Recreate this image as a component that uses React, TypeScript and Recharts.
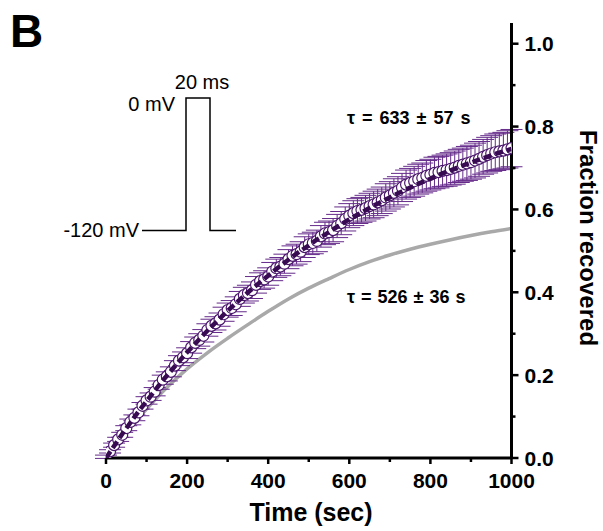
import React from 'react';
import { ComposedChart, Line, Scatter, ErrorBar, XAxis, YAxis } from 'recharts';

const timePoints = [0, 10, 20, 30, 40, 50, 60, 70, 80, 90, 100, 110, 120, 130, 140, 150, 160, 170, 180, 190, 200, 210, 220, 230, 240, 250, 260, 270, 280, 290, 300, 310, 320, 330, 340, 350, 360, 370, 380, 390, 400, 410, 420, 430, 440, 450, 460, 470, 480, 490, 500, 510, 520, 530, 540, 550, 560, 570, 580, 590, 600, 610, 620, 630, 640, 650, 660, 670, 680, 690, 700, 710, 720, 730, 740, 750, 760, 770, 780, 790, 800, 810, 820, 830, 840, 850, 860, 870, 880, 890, 900, 910, 920, 930, 940, 950, 960, 970, 980, 990, 1000];
const recoveredMean = [0.003, 0.016, 0.031, 0.045, 0.056, 0.072, 0.087, 0.097, 0.110, 0.126, 0.139, 0.148, 0.160, 0.176, 0.189, 0.197, 0.208, 0.223, 0.235, 0.243, 0.253, 0.267, 0.278, 0.285, 0.295, 0.309, 0.319, 0.325, 0.334, 0.347, 0.357, 0.362, 0.371, 0.384, 0.393, 0.398, 0.405, 0.418, 0.427, 0.431, 0.438, 0.450, 0.458, 0.462, 0.469, 0.480, 0.488, 0.492, 0.498, 0.509, 0.516, 0.519, 0.524, 0.535, 0.542, 0.545, 0.550, 0.560, 0.567, 0.577, 0.585, 0.591, 0.596, 0.599, 0.603, 0.608, 0.612, 0.617, 0.622, 0.629, 0.634, 0.640, 0.645, 0.653, 0.660, 0.664, 0.668, 0.673, 0.676, 0.681, 0.684, 0.688, 0.690, 0.693, 0.695, 0.698, 0.701, 0.705, 0.708, 0.711, 0.714, 0.718, 0.722, 0.727, 0.731, 0.735, 0.738, 0.740, 0.742, 0.745, 0.748];
const recoveredSem = [0.004, 0.004, 0.005, 0.005, 0.006, 0.006, 0.007, 0.007, 0.008, 0.008, 0.009, 0.009, 0.010, 0.010, 0.011, 0.011, 0.012, 0.012, 0.012, 0.013, 0.013, 0.014, 0.014, 0.015, 0.015, 0.015, 0.016, 0.016, 0.016, 0.017, 0.017, 0.018, 0.018, 0.018, 0.019, 0.019, 0.020, 0.020, 0.020, 0.021, 0.021, 0.022, 0.022, 0.022, 0.023, 0.023, 0.024, 0.024, 0.024, 0.025, 0.025, 0.026, 0.026, 0.026, 0.027, 0.027, 0.028, 0.028, 0.028, 0.029, 0.029, 0.030, 0.030, 0.030, 0.031, 0.031, 0.032, 0.032, 0.032, 0.033, 0.033, 0.034, 0.034, 0.034, 0.035, 0.035, 0.036, 0.036, 0.036, 0.037, 0.037, 0.038, 0.038, 0.038, 0.039, 0.039, 0.040, 0.040, 0.040, 0.041, 0.041, 0.042, 0.042, 0.042, 0.043, 0.043, 0.044, 0.044, 0.044, 0.045, 0.045];

const fitTimes = [0, 20, 40, 60, 80, 100, 120, 140, 160, 180, 200, 220, 240, 260, 280, 300, 320, 340, 360, 380, 400, 420, 440, 460, 480, 500, 520, 540, 560, 580, 600, 620, 640, 660, 680, 700, 720, 740, 760, 780, 800, 820, 840, 860, 880, 900, 920, 940, 960, 980, 1000];
const fitPurple = [0, 0.029, 0.058, 0.085, 0.112, 0.137, 0.162, 0.187, 0.210, 0.233, 0.255, 0.276, 0.297, 0.317, 0.336, 0.355, 0.373, 0.391, 0.408, 0.424, 0.440, 0.456, 0.471, 0.486, 0.500, 0.513, 0.527, 0.539, 0.552, 0.564, 0.576, 0.587, 0.598, 0.609, 0.619, 0.629, 0.639, 0.648, 0.657, 0.666, 0.674, 0.683, 0.691, 0.698, 0.706, 0.713, 0.720, 0.727, 0.734, 0.740, 0.746];

const grayTimes = [0, 50, 100, 150, 200, 250, 300, 350, 400, 450, 500, 550, 600, 650, 700, 750, 800, 850, 900, 950, 1000];
const grayFit = [0, 0.062, 0.118, 0.170, 0.215, 0.254, 0.289, 0.322, 0.354, 0.384, 0.410, 0.433, 0.455, 0.474, 0.490, 0.504, 0.516, 0.527, 0.537, 0.546, 0.554];

const xTicks = [0, 100, 200, 300, 400, 500, 600, 700, 800, 900, 1000];
const yTicks = [0, 0.1, 0.2, 0.3, 0.4, 0.5, 0.6, 0.7, 0.8, 0.9, 1.0];

const points = timePoints.map((t, i) => ({ t, v: recoveredMean[i], err: recoveredSem[i] }));
const purpleLine = fitTimes.map((t, i) => ({ t, v: fitPurple[i] }));
const grayLine = grayTimes.map((t, i) => ({ t, v: grayFit[i] }));

const FONT = '"Liberation Sans", Arial, Helvetica, sans-serif';
const W = 603;
const H = 531;

const XTick = (props: any) => {
  const { x, y, payload } = props;
  const major = Math.round(payload.value) % 200 === 0;
  return (
    <g>
      <line x1={x} x2={x} y1={y} y2={y + (major ? 6 : 4)} stroke="#000" strokeWidth={2.5} />
      {major && (
        <text x={x} y={y + 30} textAnchor="middle" fontFamily={FONT} fontWeight="bold" fontSize={21} fill="#000">
          {payload.value}
        </text>
      )}
    </g>
  );
};

const YTick = (props: any) => {
  const { x, y, payload } = props;
  const major = Math.round(payload.value * 10) % 2 === 0;
  return (
    <g>
      <line x1={x} x2={x + (major ? 7 : 4)} y1={y} y2={y} stroke="#000" strokeWidth={2.5} />
      {major && (
        <text x={x + 13} y={y} dy="0.36em" textAnchor="start" fontFamily={FONT} fontWeight="bold" fontSize={21} fill="#000">
          {Number(payload.value).toFixed(1)}
        </text>
      )}
    </g>
  );
};

const Dot = (p: any) => (
  <circle cx={p.cx} cy={p.cy} r={5.5} fill="#fff" stroke="#4a176c" strokeWidth={1.2} />
);

export default function App() {
  return (
    <div style={{ position: 'absolute', left: 0, top: 0, width: W, height: H, background: '#fff' }}>
      <ComposedChart width={W} height={H} margin={{ top: 23, right: 11.5, bottom: 23, left: 106 }}>
        <XAxis
          type="number"
          dataKey="t"
          domain={[0, 1000]}
          ticks={xTicks}
          allowDataOverflow
          axisLine={{ stroke: '#000', strokeWidth: 3 }}
          tickLine={false}
          tickSize={0}
          tickMargin={0}
          tick={<XTick />}
          height={50}
          interval={0}
          label={{
            content: () => (
              <text x={311} y={521} textAnchor="middle" fontFamily={FONT} fontWeight="bold" fontSize={25} fill="#000">
                Time (sec)
              </text>
            ),
          }}
        />
        <YAxis
          type="number"
          dataKey="v"
          orientation="right"
          domain={[0, 1.05]}
          ticks={yTicks}
          allowDataOverflow
          axisLine={{ stroke: '#000', strokeWidth: 3 }}
          tickLine={false}
          tickSize={0}
          tickMargin={0}
          tick={<YTick />}
          width={80}
          interval={0}
          label={{
            content: () => (
              <text
                x={580}
                y={238}
                textAnchor="middle"
                transform="rotate(90 580 238)"
                fontFamily={FONT}
                fontWeight="bold"
                fontSize={24}
                fill="#000"
              >
                Fraction recovered
              </text>
            ),
          }}
        />
        <Line
          data={grayLine}
          dataKey="v"
          type="monotone"
          stroke="#a9a9a9"
          strokeWidth={3.5}
          dot={false}
          activeDot={false}
          isAnimationActive={false}
        />
        <Scatter data={points} dataKey="v" shape={<Dot />} isAnimationActive={false}>
          <ErrorBar dataKey="err" direction="y" width={11} stroke="#652a8a" strokeWidth={1} />
        </Scatter>
      </ComposedChart>
      <div style={{ position: 'absolute', left: 0, top: 0, pointerEvents: 'none' }}>
        <ComposedChart width={W} height={H} margin={{ top: 23, right: 91.5, bottom: 73, left: 106 }}>
          <XAxis type="number" dataKey="t" domain={[0, 1000]} allowDataOverflow hide />
          <YAxis type="number" dataKey="v" domain={[0, 1.05]} allowDataOverflow hide />
          <Line
            data={purpleLine}
            dataKey="v"
            type="monotone"
            stroke="#370a52"
            strokeWidth={4.5}
            strokeDasharray="8 4"
            dot={false}
            activeDot={false}
            isAnimationActive={false}
          />
        </ComposedChart>
      </div>
      <svg width={W} height={H} style={{ position: 'absolute', left: 0, top: 0, pointerEvents: 'none' }}>
        <text x={10} y={47} fontFamily={FONT} fontWeight="bold" fontSize={46} fill="#000">B</text>
        <path d="M142,230.5 H186 V98 H210 V230.5 H236" fill="none" stroke="#000" strokeWidth={1.5} />
        <text x={139} y={237} textAnchor="end" fontFamily={FONT} fontSize={20} fill="#000">-120 mV</text>
        <text x={175} y={111} textAnchor="end" fontFamily={FONT} fontSize={20} fill="#000">0 mV</text>
        <text x={202} y={89} textAnchor="middle" fontFamily={FONT} fontSize={20} fill="#000">20 ms</text>
        <text x={347} y={124} fontFamily={FONT} fontWeight="bold" fontSize={18} fill="#000" wordSpacing={2}>
          τ = 633 ± 57 s
        </text>
        <text x={347} y={303} fontFamily={FONT} fontWeight="bold" fontSize={18} fill="#000" wordSpacing={1}>
          τ = 526 ± 36 s
        </text>
      </svg>
    </div>
  );
}
